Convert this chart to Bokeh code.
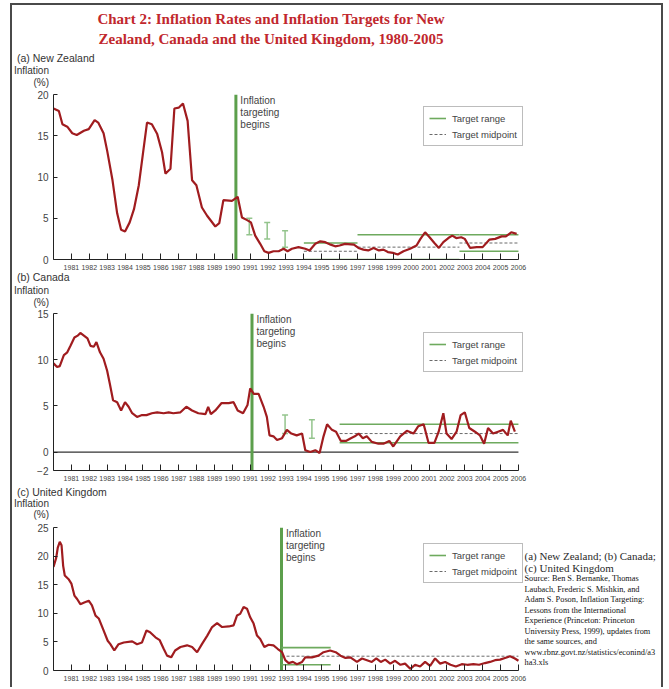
from bokeh.plotting import figure
from bokeh.models import (Range1d, FixedTicker, Label, Legend, LegendItem, Whisker,
                          ColumnDataSource, TeeHead, Div)
from bokeh.layouts import column
from bokeh.embed import file_html
from bokeh.resources import INLINE

# ---------------- data ----------------
year_ticks = list(range(1981, 2007))

nz_year = [1980.0, 1980.3, 1980.5, 1980.77, 1981.05, 1981.3, 1981.7, 1981.97, 1982.3, 1982.5,
           1982.8, 1983.0, 1983.3, 1983.56, 1983.78, 1984.0, 1984.26, 1984.5, 1984.77, 1985.0,
           1985.23, 1985.5, 1985.8, 1986.07, 1986.26, 1986.54, 1986.76, 1987.0, 1987.24, 1987.5,
           1987.75, 1987.99, 1988.3, 1988.59, 1989.05, 1989.27, 1989.5, 1989.98, 1990.3, 1990.54,
           1990.8, 1991.04, 1991.28, 1991.56, 1991.79, 1992.03, 1992.3, 1992.59, 1992.87, 1993.09,
           1993.33, 1993.7, 1994.08, 1994.32, 1994.64, 1994.92, 1995.2, 1995.5, 1995.75, 1996.0,
           1996.3, 1996.8, 1997.05, 1997.33, 1997.6, 1997.9, 1998.2, 1998.45, 1998.7, 1998.98,
           1999.25, 1999.57, 1999.94, 2000.3, 2000.52, 2000.78, 2001.03, 2001.3, 2001.55, 2001.8,
           2002.08, 2002.3, 2002.52, 2002.8, 2003.0, 2003.3, 2003.67, 2004.0, 2004.37, 2004.7,
           2005.06, 2005.3, 2005.6, 2005.9]
nz_infl = [18.3, 18.0, 16.4, 16.1, 15.3, 15.1, 15.6, 15.8, 16.9, 16.6,
           15.3, 13.2, 9.6, 5.6, 3.6, 3.4, 4.5, 6.1, 9.0, 12.8,
           16.6, 16.4, 15.2, 13.0, 10.4, 11.0, 18.3, 18.4, 18.9, 16.8,
           9.6, 9.0, 6.3, 5.3, 4.0, 4.4, 7.2, 7.1, 7.6, 5.1,
           4.8, 4.5, 2.9, 1.9, 1.0, 0.8, 1.0, 1.0, 1.3, 1.0,
           1.3, 1.5, 1.3, 1.1, 1.9, 2.2, 2.1, 1.8, 1.6, 1.7,
           1.9, 1.8, 1.4, 1.2, 1.1, 1.4, 1.1, 1.2, 0.9, 0.8,
           0.6, 1.0, 1.3, 1.7, 2.5, 3.3, 2.7, 2.0, 1.4, 2.1,
           2.6, 2.9, 2.6, 2.7, 2.5, 1.4, 1.5, 1.5, 2.4, 2.5,
           2.8, 2.8, 3.3, 3.1]

ca_year = [1980.0, 1980.2, 1980.35, 1980.58, 1980.77, 1980.95, 1981.17, 1981.35, 1981.5, 1981.7,
           1981.9, 1982.07, 1982.25, 1982.4, 1982.6, 1982.8, 1983.0, 1983.15, 1983.33, 1983.56,
           1983.78, 1984.0, 1984.2, 1984.4, 1984.67, 1984.95, 1985.2, 1985.5, 1985.8, 1986.16,
           1986.44, 1986.7, 1987.1, 1987.43, 1987.75, 1988.1, 1988.5, 1988.65, 1988.8, 1989.05,
           1989.4, 1989.8, 1990.07, 1990.3, 1990.6, 1990.85, 1991.0, 1991.2, 1991.47, 1991.75,
           1991.93, 1992.08, 1992.3, 1992.5, 1992.78, 1993.05, 1993.3, 1993.6, 1993.9, 1994.08,
           1994.36, 1994.64, 1994.88, 1995.1, 1995.3, 1995.57, 1995.8, 1996.07, 1996.35, 1996.63,
           1996.85, 1997.06, 1997.3, 1997.52, 1997.8, 1998.17, 1998.45, 1998.78, 1999.0, 1999.39,
           1999.76, 2000.13, 2000.4, 2000.7, 2000.97, 2001.3, 2001.54, 2001.8, 2001.98, 2002.26,
           2002.54, 2002.77, 2003.0, 2003.25, 2003.57, 2003.85, 2004.08, 2004.3, 2004.58, 2004.86,
           2005.14, 2005.4, 2005.57, 2005.8]
ca_infl = [9.6, 9.2, 9.3, 10.5, 10.8, 11.5, 12.4, 12.6, 12.9, 12.6,
           12.3, 11.5, 11.4, 11.9, 10.8, 10.1, 8.8, 7.4, 5.6, 5.4,
           4.5, 5.4, 4.9, 4.2, 3.8, 4.0, 4.0, 4.2, 4.3, 4.2,
           4.3, 4.2, 4.3, 4.9, 4.5, 4.2, 4.1, 4.9, 4.1, 4.5,
           5.3, 5.3, 5.4, 4.5, 4.2, 5.1, 6.9, 6.3, 6.3, 4.9,
           3.8, 1.8, 1.7, 1.3, 1.5, 2.4, 2.0, 1.8, 2.0, 0.2,
           0.0, 0.2, -0.1, 1.7, 3.0, 2.4, 2.2, 1.2, 1.2, 1.5,
           1.7, 2.0, 1.5, 1.7, 1.1, 0.9, 0.9, 1.2, 0.6, 1.7,
           2.3, 2.0, 2.8, 3.0, 1.0, 1.0, 2.2, 4.2, 2.0, 1.4,
           2.2, 4.0, 4.3, 2.6, 2.2, 1.8, 0.9, 2.6, 2.0, 2.2,
           2.4, 1.8, 3.4, 2.2]

uk_year = [1980.0, 1980.15, 1980.24, 1980.35, 1980.45, 1980.54, 1980.63, 1980.86, 1981.0, 1981.17,
           1981.32, 1981.5, 1981.72, 1981.97, 1982.15, 1982.35, 1982.53, 1982.8, 1983.03, 1983.18,
           1983.4, 1983.64, 1983.93, 1984.4, 1984.67, 1984.95, 1985.2, 1985.4, 1985.7, 1985.94,
           1986.16, 1986.35, 1986.58, 1986.8, 1987.1, 1987.47, 1987.75, 1988.03, 1988.3, 1988.6,
           1988.87, 1989.15, 1989.43, 1989.8, 1990.07, 1990.26, 1990.44, 1990.63, 1990.82, 1991.0,
           1991.19, 1991.38, 1991.56, 1991.79, 1992.03, 1992.3, 1992.53, 1992.78, 1992.96, 1993.15,
           1993.39, 1993.61, 1993.9, 1994.08, 1994.45, 1994.82, 1995.1, 1995.47, 1995.78, 1996.05,
           1996.33, 1996.6, 1996.97, 1997.25, 1997.53, 1997.8, 1998.05, 1998.3, 1998.55, 1998.83,
           1999.1, 1999.4, 1999.66, 1999.95, 2000.22, 2000.5, 2000.78, 2001.06, 2001.34, 2001.62,
           2001.9, 2002.2, 2002.5, 2002.83, 2003.14, 2003.48, 2003.8, 2004.13, 2004.41, 2004.69,
           2004.97, 2005.25, 2005.53, 2005.8, 2006.0]
uk_infl = [18.1, 19.7, 21.5, 22.5, 21.9, 18.3, 16.6, 15.9, 15.2, 13.1,
           12.5, 11.6, 11.9, 12.2, 11.4, 9.6, 9.1, 7.0, 5.2, 4.6,
           3.5, 4.6, 4.9, 5.1, 4.6, 4.9, 7.0, 6.7, 5.8, 5.3,
           3.8, 2.6, 2.3, 3.5, 4.1, 4.4, 4.1, 3.2, 4.6, 6.1,
           7.6, 8.3, 7.6, 7.7, 7.9, 9.6, 9.9, 11.1, 10.8, 9.3,
           8.2, 6.1, 5.5, 4.1, 4.5, 4.4, 3.8, 3.2, 1.8, 1.3,
           1.5, 1.1, 1.5, 2.3, 2.3, 2.6, 3.2, 3.5, 3.2, 2.6,
           2.2, 2.3, 1.5, 2.1, 1.8, 1.5, 2.1, 1.5, 1.9, 1.2,
           1.7, 1.0, 1.2, 0.3, 1.0, 0.7, 1.5, 0.8, 2.1, 1.2,
           1.5, 1.0, 0.7, 1.1, 1.0, 1.1, 1.0, 1.3, 1.5, 1.8,
           1.9, 2.2, 2.5, 2.1, 1.7]

# year inflation targeting began: NZ, Canada, UK
begin_year = [1990.2, 1991.1, 1992.75]

# interim targets (drawn as bars)
nz_bar_year = [1990.95, 1991.95, 1992.95]
nz_bar_lo = [3.0, 2.5, 1.5]
nz_bar_hi = [5.0, 4.5, 3.5]
ca_bar_year = [1992.95, 1994.45]
ca_bar_lo = [2.0, 1.5]
ca_bar_hi = [4.0, 3.5]

# target ranges and midpoints
nz_band_start = [1994.0, 1997.0, 2002.7]
nz_band_end = [1997.0, 2002.7, 2006.0]
nz_band_lo = [0.0, 0.0, 1.0]
nz_band_hi = [2.0, 3.0, 3.0]
nz_mid_start = [1994.0, 1997.0, 2002.7]
nz_mid_end = [1997.0, 2002.7, 2006.0]
nz_mid = [1.0, 1.5, 2.0]

ca_band_start = [1996.0]
ca_band_end = [2006.0]
ca_band_lo = [1.0]
ca_band_hi = [3.0]
ca_mid_start = [1996.0]
ca_mid_end = [2006.0]
ca_mid = [2.0]

uk_band_start = [1992.75]
uk_band_end = [1995.5]
uk_band_lo = [1.0]
uk_band_hi = [4.0]
uk_mid_start = [1992.75]
uk_mid_end = [2006.0]
uk_mid = [2.5]

zero_x = [1980.0, 2006.0]
zero_y = [0.0, 0.0]

title_lines = ["Chart 2: Inflation Rates and Inflation Targets for New",
               "Zealand, Canada and the United Kingdom, 1980-2005"]
panel_names = ["(a) New Zealand", "(b) Canada", "(c) United Kingdom"]
note_head = ["(a) New Zealand; (b) Canada;", "(c) United Kingdom"]
source_lines = ["Source: Ben S. Bernanke, Thomas",
                "Laubach, Frederic S. Mishkin, and",
                "Adam S. Poson, Inflation Targeting:",
                "Lessons from the International",
                "Experience (Princeton: Princeton",
                "University Press, 1999), updates from",
                "the same sources, and",
                "www.rbnz.govt.nz/statistics/econind/a3",
                "ha3.xls"]

# ---------------- style ----------------
RED = "#a01c1f"
GREEN = "#5c9f4c"
BAND_GREEN = "#6eaa5e"
BAR_GREEN = "#93c48c"
MID_GREY = "#6a6a6a"
TEXT = "#333333"
SANS = "Liberation Sans"
SERIF = "Liberation Serif"

W = 649            # content width
LEFT = 41          # left border of each figure
X_END = 2014.0
PAGE_X0 = 12       # page x of the content (margin 10 + border 2)
FRAME_LEFT = PAGE_X0 + LEFT
PX_PER_YEAR = (W - LEFT) / (X_END - 1980)


def xv(page_x):
    return 1980 + (page_x - FRAME_LEFT) / PX_PER_YEAR


def make_panel(height, y0, y1, yticks, top, bottom, page_top):
    p = figure(width=W, height=height, x_range=Range1d(1980, X_END), y_range=Range1d(y0, y1),
               output_backend="svg", toolbar_location=None,
               min_border_left=LEFT, min_border_right=0,
               min_border_top=top, min_border_bottom=bottom)
    p.outline_line_color = None
    p.xgrid.visible = False
    p.ygrid.visible = False
    xa = p.xaxis[0]
    xa.ticker = FixedTicker(ticks=year_ticks)
    xa.bounds = (1980, 2006)
    xa.major_tick_in = 6
    xa.major_tick_out = 0
    xa.minor_tick_in = 0
    xa.minor_tick_out = 0
    xa.axis_line_color = "#222222"
    xa.major_tick_line_color = "#222222"
    xa.major_label_text_font = SANS
    xa.major_label_text_font_size = "7px"
    xa.major_label_text_color = "#444444"
    xa.major_label_standoff = 5
    ya = p.yaxis[0]
    ya.ticker = FixedTicker(ticks=yticks)
    ya.bounds = (y0, y1)
    ya.major_tick_in = 4
    ya.major_tick_out = 0
    ya.minor_tick_in = 0
    ya.minor_tick_out = 0
    ya.axis_line_color = "#222222"
    ya.major_tick_line_color = "#222222"
    ya.major_label_text_font = SANS
    ya.major_label_text_font_size = "10px"
    ya.major_label_text_color = "#444444"
    ya.major_label_standoff = 5
    frame_h = height - top - bottom
    info = dict(y0=y0, y1=y1, ppu=frame_h / (y1 - y0), fb=page_top + top + frame_h,
                ft=page_top + top)
    return p, info


def yv(info, page_y):
    return info["y0"] + (info["fb"] - page_y) / info["ppu"]


def add_text(p, x, y, text, size, align="left", font=SANS, color=TEXT, style="normal"):
    p.add_layout(Label(x=x, y=y, text=text, text_align=align, text_baseline="middle",
                       text_font=font, text_font_size=size, text_color=color,
                       text_font_style=style))


def build(p, info, yrs, vals, begin, band, mid, bars, legend_bottom):
    y0, y1 = info["y0"], info["y1"]
    p.segment(x0=[begin], y0=[y0], x1=[begin], y1=[y1], line_color=GREEN, line_width=3)
    if bars is not None:
        bsrc = ColumnDataSource(dict(x=bars[0], lo=bars[1], hi=bars[2]))
        p.add_layout(Whisker(source=bsrc, base="x", lower="lo", upper="hi",
                             line_color=BAR_GREEN, line_width=1.5,
                             upper_head=TeeHead(size=6, line_color=BAR_GREEN, line_width=1.5),
                             lower_head=TeeHead(size=6, line_color=BAR_GREEN, line_width=1.5)))
    bs, be, blo, bhi = band
    r_hi = p.segment(x0=bs, y0=bhi, x1=be, y1=bhi, line_color=BAND_GREEN, line_width=1.6)
    p.segment(x0=bs, y0=blo, x1=be, y1=blo, line_color=BAND_GREEN, line_width=1.6)
    ms, me, mv = mid
    r_mid = p.segment(x0=ms, y0=mv, x1=me, y1=mv, line_color=MID_GREY, line_width=1,
                      line_dash="3 2")
    p.line(yrs, vals, line_color=RED, line_width=2.2)
    legend = Legend(items=[LegendItem(label="Target range", renderers=[r_hi]),
                           LegendItem(label="Target midpoint", renderers=[r_mid])],
                    location=(370, legend_bottom), border_line_color="#7a7a7a",
                    border_line_width=1, background_fill_color="white", background_fill_alpha=1,
                    label_text_font=SANS, label_text_font_size="9.5px",
                    label_text_color="#444444", glyph_width=17, glyph_height=12,
                    label_height=12, label_standoff=6, spacing=4, padding=5, margin=0)
    p.add_layout(legend)
    for k, word in enumerate(["Inflation", "targeting", "begins"]):
        add_text(p, begin + 0.25, yv(info, info["ft"] + 6 + 12 * k), word, "10px",
                 color="#444444")


def header_div(height, name, tops):
    span = ("position:absolute;white-space:nowrap;font-family:'Liberation Sans',Arial,sans-serif;"
            "color:#333;line-height:11px;")
    html = (f'<div style="position:relative;width:{W}px;height:{height}px;">'
            f'<div style="{span}left:5px;top:{tops[0]}px;font-size:10.5px;">{name}</div>'
            f'<div style="{span}left:0;width:37px;text-align:right;top:{tops[1]}px;'
            f'font-size:10px;">Inflation</div>'
            f'<div style="{span}left:0;width:37px;text-align:right;top:{tops[2]}px;'
            f'font-size:10px;">(%)</div></div>')
    return Div(text=html, width=W, height=height, margin=(0, 0, 0, 0))


tstyle = ("position:absolute;left:0;width:518px;text-align:center;white-space:nowrap;"
          "font-family:'Liberation Serif','Times New Roman',serif;font-weight:bold;"
          "font-size:15px;line-height:18px;color:#c1272d;")
title_div = Div(text=(f'<div style="position:relative;width:{W}px;height:45px;">'
                      f'<div style="{tstyle}top:5px;">{title_lines[0]}</div>'
                      f'<div style="{tstyle}top:25px;">{title_lines[1]}</div></div>'),
                width=W, height=45, margin=(0, 0, 0, 0))

# ---------------- panels ----------------
hdr_a = header_div(38, panel_names[0], (3, 15, 27))
pa, ia = make_panel(184, 0, 20, [0, 5, 10, 15, 20], 6, 13, 88)
build(pa, ia, nz_year, nz_infl, begin_year[0],
      (nz_band_start, nz_band_end, nz_band_lo, nz_band_hi),
      (nz_mid_start, nz_mid_end, nz_mid),
      (nz_bar_year, nz_bar_lo, nz_bar_hi), 113)

hdr_b = header_div(36, panel_names[1], (0, 13, 25))
pb, ib = make_panel(175, -2, 15, [-2, 0, 5, 10, 15], 5, 13, 308)
pb.line(zero_x, zero_y, line_color="#333333", line_width=1.2)
build(pb, ib, ca_year, ca_infl, begin_year[1],
      (ca_band_start, ca_band_end, ca_band_lo, ca_band_hi),
      (ca_mid_start, ca_mid_end, ca_mid),
      (ca_bar_year, ca_bar_lo, ca_bar_hi), 98)

hdr_c = header_div(36, panel_names[2], (4, 15, 26))
pc, ic = make_panel(168, 0, 25, [0, 5, 10, 15, 20, 25], 8, 17, 519)
build(pc, ic, uk_year, uk_infl, begin_year[2],
      (uk_band_start, uk_band_end, uk_band_lo, uk_band_hi),
      (uk_mid_start, uk_mid_end, uk_mid),
      None, 87)

# source note
add_text(pc, xv(524), yv(ic, 555), note_head[0], "11px", font=SERIF, color="#2a2a2a")
add_text(pc, xv(524), yv(ic, 567), note_head[1], "11px", font=SERIF, color="#2a2a2a")
for k, line in enumerate(source_lines):
    add_text(pc, xv(524), yv(ic, 578 + 10.5 * k), line, "8.3px", font=SERIF, color="#111111")

border = "2px solid #4a4a4a"
layout = column(title_div, hdr_a, pa, hdr_b, pb, hdr_c, pc, margin=(3, 0, 0, 10),
                styles={"border-left": border, "border-right": border, "border-top": border})

open("out.html", "w").write(file_html(layout, INLINE))
